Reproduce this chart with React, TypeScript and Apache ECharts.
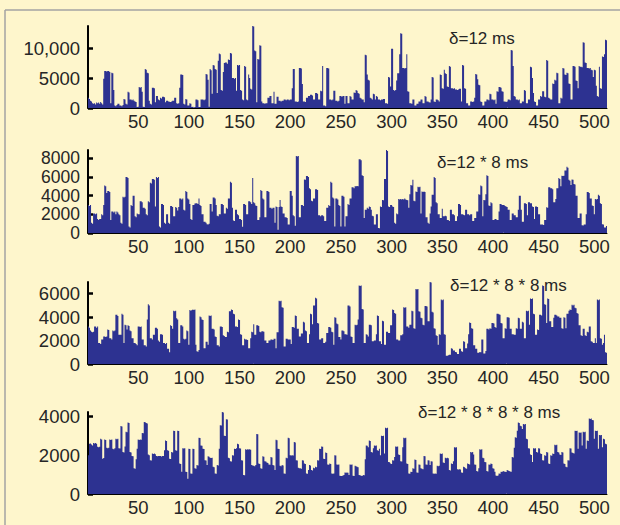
import React, { useEffect, useRef } from "react";
import * as echarts from "echarts";

// ---- data ----
const categories: string[] = Array.from({ length: 512 }, (_, i) => String(i + 1));
const xTickLabels = ["50", "100", "150", "200", "250", "300", "350", "400", "450", "500"];

const panelTitles = ["δ=12 ms", "δ=12 * 8 ms", "δ=12 * 8 * 8 ms", "δ=12 * 8 * 8 * 8 ms"];

const yTicks1 = [0, 5000, 10000];
const yTickLabels1 = ["0", "5000", "10,000"];
const yTicks2 = [0, 2000, 4000, 6000, 8000];
const yTickLabels2 = ["0", "2000", "4000", "6000", "8000"];
const yTicks3 = [0, 2000, 4000, 6000];
const yTickLabels3 = ["0", "2000", "4000", "6000"];
const yTicks4 = [0, 2000, 4000];
const yTickLabels4 = ["0", "2000", "4000"];

const counts12ms = [
  1700, 1500, 1200, 1100, 800, 700, 800, 600, 900, 800, 900, 700, 1000, 800, 600, 4900,
  6200, 6200, 6100, 6200, 6200, 6000, 800, 5900, 5800, 3000, 400, 300, 500, 700, 700, 400,
  400, 300, 500, 1500, 1400, 700, 600, 2700, 2600, 1400, 1400, 1300, 1400, 1200, 1100, 1000,
  150, 200, 3500, 3400, 3500, 2700, 200, 150, 6500, 6400, 5900, 5800, 1200, 700, 600, 3400,
  3400, 3300, 950, 2000, 2000, 1400, 1300, 1700, 1600, 1900, 1900, 1800, 950, 1200, 1200, 1100,
  1050, 1000, 1100, 1200, 1200, 1700, 1700, 800, 700, 800, 3400, 5600, 5600, 5500, 700, 600,
  1500, 1400, 400, 400, 800, 700, 150, 200, 100, 150, 1400, 1400, 1300, 150, 150, 1400,
  1400, 1400, 1300, 1400, 5700, 5600, 4700, 200, 6500, 6300, 2400, 7200, 7100, 6500, 6400, 2500,
  7900, 9100, 9000, 3000, 2900, 6000, 7500, 7600, 7600, 7400, 8100, 8000, 9200, 9100, 5000, 5000,
  4900, 5000, 2900, 7200, 7100, 7200, 3000, 2900, 1400, 1300, 7000, 6900, 1400, 1300, 5600, 5000,
  3200, 3100, 13700, 13600, 9600, 9500, 950, 8200, 8100, 10500, 10400, 1100, 800, 800, 700, 800,
  800, 1700, 1700, 2000, 2000, 800, 800, 2700, 700, 700, 1900, 1900, 1200, 1200, 1100, 1200,
  1200, 1400, 1400, 1300, 1400, 1400, 1300, 1400, 1400, 3300, 6500, 6500, 1100, 1100, 1000, 1100,
  6700, 6700, 6600, 4000, 1100, 1100, 1000, 1700, 1700, 2000, 2000, 2200, 2200, 2100, 1400, 1400,
  2500, 2500, 2400, 1400, 1400, 2900, 2800, 7000, 400, 400, 300, 6700, 6700, 6600, 1400, 1400,
  1300, 1400, 2900, 2900, 1200, 1200, 1100, 1200, 2000, 2000, 1900, 2000, 2000, 700, 2000, 2000,
  800, 800, 2000, 1900, 1400, 1400, 2600, 2500, 3000, 2900, 2500, 2400, 1700, 1600, 1400, 1400,
  950, 8900, 8800, 5600, 4700, 4600, 1700, 1600, 1400, 2400, 2300, 1400, 2000, 1900, 1400, 1400,
  1300, 1400, 1400, 1500, 1500, 800, 800, 700, 5200, 5100, 3600, 9900, 9900, 3000, 2900, 3000,
  4600, 5800, 5800, 9000, 12500, 12400, 6700, 6700, 6600, 6700, 9000, 2800, 2700, 800, 800, 700,
  1400, 1400, 400, 400, 700, 700, 1100, 1100, 1400, 1400, 800, 800, 2000, 1900, 1100, 1100,
  950, 900, 1400, 5200, 5100, 1100, 1000, 1400, 1400, 1300, 1100, 5600, 5500, 3300, 3200, 6400,
  5800, 5700, 3600, 3500, 7000, 6900, 3300, 3300, 3200, 3300, 3100, 3100, 3000, 3100, 3200, 3200,
  1100, 7200, 7100, 3300, 3200, 800, 800, 400, 400, 1100, 1100, 1000, 1100, 1700, 5700, 5600,
  4800, 3900, 3800, 1100, 1000, 400, 400, 1100, 1100, 1400, 1400, 1300, 2400, 2300, 1400, 1400,
  1300, 1400, 700, 2800, 2700, 3500, 3500, 3400, 2800, 2700, 1100, 1100, 1000, 1100, 1400, 1400,
  1300, 9700, 9600, 7000, 2000, 1900, 1400, 1400, 1300, 1400, 800, 800, 1100, 1100, 3000, 2900,
  800, 800, 1400, 1400, 6900, 6800, 5000, 2500, 1100, 1000, 400, 400, 1400, 1400, 2000, 1900,
  2800, 2800, 1900, 1800, 8000, 7900, 1700, 1600, 1400, 1400, 4100, 4000, 4700, 4600, 5900, 5800,
  800, 800, 1700, 1600, 6700, 6600, 5600, 5500, 5900, 5800, 4100, 4000, 1400, 1400, 7000, 7000,
  6900, 4600, 4500, 3300, 7000, 6900, 6900, 6800, 11000, 10900, 7600, 7500, 6700, 6700, 6600, 6700,
  6400, 6300, 5200, 6400, 6300, 3700, 2000, 1900, 6900, 3300, 3200, 8600, 8500, 9000, 11400, 11300,
];

const counts12x8ms = [
  3000, 2900, 3000, 1100, 1000, 2100, 2100, 2000, 2100, 1500, 1400, 1500, 1500, 2000, 1900, 3000,
  5100, 5000, 4300, 4500, 4500, 4400, 1400, 2300, 2300, 2200, 2300, 2000, 2300, 2200, 2000, 1900,
  1100, 1000, 3900, 3800, 3900, 6000, 6000, 5900, 700, 600, 3000, 2900, 4000, 4000, 1800, 1700,
  2100, 2000, 2000, 3400, 3400, 3300, 2700, 2700, 2600, 2000, 1900, 3400, 3300, 5400, 5300, 5800,
  5800, 5700, 2850, 6000, 5900, 6000, 700, 600, 3100, 3100, 3000, 1100, 1000, 2000, 2000, 1100,
  1000, 2900, 2900, 2800, 1800, 1800, 2800, 2700, 2400, 2800, 3700, 3700, 3600, 3700, 2500, 2400,
  4500, 4400, 3700, 3600, 3100, 1500, 1400, 3000, 3000, 3150, 3200, 3200, 3100, 3700, 3000, 2900,
  2000, 2000, 1200, 1200, 1100, 950, 900, 1000, 3100, 3100, 2300, 3800, 3800, 3700, 3000, 1850,
  1800, 2000, 2000, 3100, 3100, 3000, 2100, 2100, 2700, 2600, 3700, 3700, 5500, 5400, 2700, 1350,
  1300, 2500, 2500, 2000, 1900, 1500, 1500, 1400, 680, 3100, 3100, 3000, 2000, 2000, 3400, 3400,
  3300, 3100, 5900, 3300, 3200, 2950, 2900, 1400, 1400, 1700, 4600, 4500, 3700, 3600, 1700, 1700,
  4500, 4500, 4400, 2700, 2700, 2600, 2700, 2700, 1100, 2850, 2800, 350, 2800, 3550, 2850, 2800,
  2100, 2100, 1700, 1700, 1600, 900, 900, 4500, 4500, 4000, 1900, 1800, 780, 8250, 8200, 8250,
  1700, 1700, 3000, 3000, 2900, 5750, 5700, 6100, 6100, 6000, 4800, 4700, 3450, 3400, 3700, 3700,
  4700, 4700, 4600, 1900, 1900, 1800, 1900, 1900, 1800, 1300, 1300, 2700, 2700, 3000, 2900, 5500,
  5400, 3800, 3700, 700, 3700, 3700, 3600, 3000, 2900, 700, 4000, 4000, 3900, 700, 1800, 1800,
  3100, 3000, 3700, 3700, 4900, 4900, 4800, 5000, 5000, 5050, 5000, 7900, 7900, 7800, 6200, 6100,
  1600, 2500, 2500, 2700, 2600, 2850, 2800, 2500, 1850, 1800, 900, 900, 2000, 2000, 530, 500,
  2850, 2800, 3550, 3500, 5800, 5800, 8900, 8800, 2850, 2800, 3000, 3000, 2850, 2800, 1100, 1000,
  2100, 2000, 3650, 3600, 3650, 3600, 3650, 3600, 3700, 3600, 3550, 3500, 2700, 4150, 5150, 5100,
  5700, 3450, 3400, 4450, 4400, 4950, 4900, 4950, 2100, 4450, 4400, 4450, 4400, 1700, 1700, 1100,
  1000, 2100, 2850, 4100, 4100, 6000, 5900, 3300, 3200, 2000, 2000, 1600, 1600, 2600, 1800, 1800,
  1850, 1800, 1400, 1400, 1300, 2500, 2500, 2000, 2000, 1900, 1300, 1300, 1800, 3100, 3100, 3000,
  2000, 2000, 1950, 1900, 2500, 2500, 2000, 2000, 1900, 2000, 2000, 1300, 1300, 1600, 1600, 2300,
  2300, 4150, 4100, 5100, 5000, 1800, 3550, 3500, 4150, 6200, 6100, 2950, 2900, 3300, 3200, 1400,
  1400, 1500, 1500, 1400, 1400, 2300, 3100, 3100, 3000, 3000, 3000, 2900, 2850, 2800, 2500, 2500,
  1400, 1400, 2100, 2100, 1900, 1900, 1700, 1700, 2500, 4000, 4000, 2500, 1200, 1200, 3200, 3200,
  3100, 1900, 3300, 3300, 3200, 3200, 2850, 2800, 1500, 2850, 2850, 2800, 2000, 2000, 900, 900,
  900, 850, 1400, 1400, 2750, 2700, 4900, 4900, 4800, 4800, 4700, 3300, 3300, 3650, 4800, 4800,
  5900, 5800, 5000, 6150, 6100, 6150, 6700, 6700, 7100, 7000, 5700, 5600, 5150, 5750, 5700, 5250,
  5200, 4000, 4000, 1600, 1600, 2100, 2100, 820, 800, 900, 900, 2000, 4400, 4400, 4300, 3700,
  3700, 2950, 2900, 2000, 3650, 3600, 3650, 4100, 4000, 3200, 3100, 950, 900, 600, 600, 750,
];

const counts12x8x8ms = [
  3200, 3100, 2850, 2750, 2700, 2750, 3200, 3200, 3100, 3200, 1800, 1800, 1700, 2100, 2100, 2350,
  2350, 2300, 2350, 2950, 2900, 2200, 2200, 2100, 2850, 2800, 2850, 4200, 4200, 4100, 2500, 2500,
  2500, 4300, 4200, 1800, 3350, 3300, 2950, 3300, 3250, 2850, 2800, 2200, 2200, 1800, 1800, 1700,
  1600, 3200, 3200, 3150, 3200, 2100, 2100, 1600, 1600, 1500, 3800, 5100, 5000, 2200, 2200, 2100,
  2500, 2500, 3100, 3100, 3000, 2000, 1900, 2550, 2550, 2500, 1800, 1800, 1700, 1800, 1300, 1300,
  1000, 3300, 3250, 3000, 4550, 4500, 4550, 3900, 3800, 1800, 1800, 3300, 3300, 3200, 2150, 2100,
  2150, 2850, 2800, 1650, 4600, 4550, 4600, 4650, 4600, 4650, 1650, 1080, 1050, 1200, 4050, 4000,
  3800, 3750, 1350, 1350, 1900, 1900, 1650, 4150, 4100, 4150, 3000, 3000, 2950, 2350, 2300, 1600,
  1600, 1500, 3200, 3200, 3150, 2450, 2400, 2300, 2300, 2750, 2700, 4500, 4500, 4650, 4600, 4300,
  4250, 3200, 3200, 3150, 3800, 3750, 2550, 2500, 1600, 1600, 2150, 2100, 2100, 2050, 1350, 1350,
  2200, 2750, 2700, 3400, 2500, 2500, 3300, 3300, 3250, 2750, 2700, 2800, 2800, 2750, 2000, 2000,
  1800, 1800, 2000, 2000, 2100, 2100, 2050, 2150, 2150, 1350, 2700, 2700, 5400, 5350, 5400, 4850,
  4800, 1500, 1500, 2150, 2150, 2100, 2100, 2100, 1700, 3150, 3150, 3100, 4150, 4100, 3000, 3000,
  2350, 2350, 2600, 2600, 3600, 3550, 2850, 2800, 1800, 1800, 2550, 4300, 4250, 3400, 5000, 5000,
  5650, 5600, 3500, 3450, 2100, 2100, 2200, 2200, 1800, 1800, 1900, 2650, 2650, 3150, 3150, 3100,
  2750, 2700, 1650, 4000, 3950, 3450, 3400, 2300, 2300, 2100, 2850, 2850, 2800, 2550, 2550, 2500,
  5000, 5000, 4900, 2350, 2300, 1800, 1800, 3350, 3300, 3350, 3800, 6700, 6650, 6700, 4700, 4650,
  1800, 1800, 2550, 2500, 2350, 3350, 3350, 3300, 1950, 1950, 2000, 2000, 2550, 4150, 4100, 1950,
  1950, 1700, 3700, 3650, 1650, 1650, 2750, 2750, 2650, 2650, 3300, 3300, 4650, 4600, 4350, 4300,
  2100, 2100, 2000, 2000, 2450, 2450, 2550, 4850, 4800, 4850, 3200, 3200, 3100, 3350, 3350, 4550,
  4500, 3050, 3000, 6400, 6350, 6400, 4500, 4450, 3950, 3900, 3350, 3300, 4950, 4950, 4900, 3650,
  3650, 7000, 6950, 4450, 4400, 3050, 3000, 2450, 2400, 1650, 2550, 2500, 5500, 5450, 5500, 2550,
  2500, 700, 700, 750, 800, 800, 1350, 1300, 1150, 1150, 1030, 1000, 850, 850, 1300, 1300,
  1080, 1050, 1950, 1900, 1350, 1350, 1750, 2550, 3550, 3500, 3050, 3000, 1600, 1600, 1300, 1300,
  950, 950, 1030, 1000, 2100, 2100, 900, 900, 1100, 3000, 3000, 2950, 3050, 3000, 3500, 3500,
  3450, 3150, 3100, 4300, 4300, 4250, 4200, 3500, 3450, 2200, 2200, 3050, 3000, 4000, 4000, 3950,
  3000, 3000, 2550, 2550, 2500, 2500, 3050, 3000, 3950, 3900, 3000, 3000, 3600, 3550, 2200, 2200,
  4550, 4500, 4550, 3350, 5600, 5550, 5600, 4300, 4250, 2500, 2500, 2950, 2900, 4200, 4200, 4150,
  6700, 6650, 5100, 5050, 3500, 5600, 5550, 3650, 3650, 3150, 3150, 3950, 4200, 4200, 4150, 4050,
  4050, 3950, 3950, 3050, 3000, 4000, 3950, 3050, 4300, 4300, 4550, 4650, 4600, 5050, 5000, 5050,
  4800, 4750, 4350, 4300, 3300, 3300, 2450, 2400, 3000, 3000, 2450, 2400, 2750, 2700, 3200, 3200,
  1950, 1900, 1800, 1800, 2200, 1800, 5500, 5450, 5500, 2200, 2150, 1650, 1800, 2500, 1000, 950,
];

const counts12x8x8x8ms = [
  2000, 2580, 2600, 2550, 2500, 2630, 2600, 2630, 2580, 2430, 2400, 2430, 2840, 2800, 1820, 1850,
  2800, 2780, 2380, 2350, 2380, 2800, 2780, 2800, 2330, 2300, 2360, 2840, 2820, 2840, 2360, 2340,
  3500, 3480, 2160, 2140, 2450, 3200, 3180, 3680, 3650, 2160, 2140, 1960, 1940, 1320, 1300, 1790,
  2330, 2800, 2780, 2800, 2790, 3140, 3120, 3710, 3690, 3650, 3630, 2030, 2000, 1740, 1720, 2080,
  2060, 2080, 2050, 1960, 1940, 1960, 1950, 1960, 1930, 1960, 1950, 2250, 2750, 2730, 2250, 2230,
  1820, 1800, 2160, 2140, 3260, 3240, 2250, 2230, 3260, 3240, 1570, 1550, 1150, 2360, 2340, 2360,
  1150, 1130, 780, 2330, 2310, 1060, 1040, 2330, 2310, 1320, 1300, 1490, 1470, 2900, 2880, 2500,
  2480, 2330, 2310, 1740, 1720, 1490, 1940, 1920, 1870, 1850, 1870, 1400, 1380, 1060, 1040, 1490,
  1470, 2330, 3540, 3520, 4220, 4200, 3000, 2980, 3850, 3830, 1860, 1840, 1690, 1670, 2000, 1980,
  2330, 2310, 2360, 2580, 2560, 2360, 2340, 1740, 1720, 980, 960, 2300, 2280, 2300, 2290, 2300,
  2280, 1490, 1470, 1450, 1430, 1490, 3090, 3070, 1570, 1550, 1320, 1300, 1940, 1920, 1690, 1670,
  1620, 1600, 1520, 1500, 1900, 1880, 1490, 1470, 1230, 2790, 2770, 2330, 2310, 1450, 1430, 1490,
  1470, 1060, 1040, 1860, 1840, 2890, 2870, 2000, 1980, 2000, 1980, 2670, 2650, 1740, 1720, 1350,
  1330, 1320, 1300, 1740, 1720, 1570, 1550, 1060, 1040, 1230, 1490, 1470, 1230, 1210, 1350, 1330,
  1400, 1380, 1740, 1720, 2330, 2310, 2450, 2430, 1820, 1800, 2130, 2110, 1520, 1500, 1570, 1550,
  1060, 1040, 1060, 2000, 1980, 1520, 1500, 1520, 945, 930, 930, 950, 980, 1110, 1100, 1110,
  1090, 980, 1520, 1500, 1520, 945, 930, 1450, 1430, 1400, 1380, 980, 960, 945, 930, 980,
  960, 1790, 2500, 2480, 2400, 2750, 2730, 2160, 2140, 2360, 2500, 2480, 2500, 2250, 2230, 2330,
  1990, 3000, 2980, 3000, 2080, 3410, 3390, 3410, 1650, 1630, 1570, 1550, 1740, 1720, 1900, 2450,
  2430, 2450, 2030, 2010, 1690, 1670, 2410, 2890, 2870, 2890, 1570, 1550, 1060, 1040, 1150, 1130,
  1320, 1300, 1770, 1750, 1110, 1090, 1520, 1500, 1320, 1300, 1280, 1960, 1940, 1520, 1500, 1740,
  1720, 1490, 1690, 1670, 1060, 1040, 1060, 1040, 1450, 1430, 1450, 2080, 2060, 2080, 1620, 1600,
  1860, 1840, 1860, 1840, 1230, 1210, 1570, 1550, 1690, 2410, 2390, 2410, 1280, 1260, 1280, 1260,
  1110, 1090, 1400, 1380, 1320, 1300, 1570, 1550, 1520, 2160, 2140, 2160, 2030, 1520, 1500, 1180,
  1160, 1320, 2300, 2280, 2300, 1860, 1840, 1650, 1630, 1180, 1160, 1520, 1500, 1570, 1550, 1320,
  1300, 1150, 950, 930, 950, 1060, 1040, 1150, 1130, 1180, 1160, 1150, 1130, 1230, 1210, 1180,
  1160, 1150, 1900, 1880, 2380, 2920, 2900, 3260, 3680, 3660, 3510, 3490, 3340, 3600, 3580, 3600,
  2840, 2820, 2360, 2340, 2030, 2010, 1650, 2360, 2340, 2360, 2160, 2140, 2360, 2340, 2080, 2060,
  1740, 1720, 1990, 1970, 2160, 2140, 1570, 1550, 1990, 1970, 2080, 2060, 2530, 2510, 2530, 2160,
  2140, 2030, 2010, 2160, 2140, 1570, 1550, 1400, 1380, 1740, 1720, 2360, 2340, 2130, 2110, 2080,
  3260, 3240, 3260, 2330, 3170, 3150, 3170, 2500, 3200, 3180, 3200, 2330, 2750, 2730, 3880, 3860,
  3880, 3810, 3790, 2840, 3260, 3240, 3260, 2330, 3040, 3020, 3040, 2410, 2840, 2820, 2580, 2560,
];

// ---- styling / layout ----
const BAR = "#2D3291";
const BG = "#FEF6CC";
const FONT = "'Liberation Sans', Arial, Helvetica, sans-serif";
const TEXT = "#262626";

const panels = [
  { data: counts12ms, ticks: yTicks1, labels: yTickLabels1, top: 26, height: 82, title: panelTitles[0], tx: 449, ty: 38, fs: 18.5 },
  { data: counts12x8ms, ticks: yTicks2, labels: yTickLabels2, top: 150, height: 83, title: panelTitles[1], tx: 437, ty: 162, fs: 17.5 },
  { data: counts12x8x8ms, ticks: yTicks3, labels: yTickLabels3, top: 282, height: 82, title: panelTitles[2], tx: 450, ty: 285, fs: 18.5 },
  { data: counts12x8x8x8ms, ticks: yTicks4, labels: yTickLabels4, top: 412, height: 82, title: panelTitles[3], tx: 418, ty: 412, fs: 18.5 },
];

export default function App() {
  const ref = useRef<HTMLDivElement | null>(null);

  useEffect(() => {
    if (!ref.current) return;
    const chart = echarts.init(ref.current, undefined, { renderer: "svg" });

    const option: any = {
      animation: false,
      backgroundColor: BG,
      textStyle: { fontFamily: FONT },
      grid: panels.map((p) => ({ left: 88, top: p.top, width: 519, height: p.height, containLabel: false })),
      xAxis: panels.map((p, i) => ({
        type: "category",
        gridIndex: i,
        data: categories,
        boundaryGap: true,
        axisLine: { show: true, lineStyle: { color: "#000", width: 1 } },
        axisTick: { show: false },
        splitLine: { show: false },
        axisLabel: {
          interval: (_idx: number, val: string) => xTickLabels.includes(val),
          margin: 4,
          fontSize: 18.5,
          color: TEXT,
          fontFamily: FONT,
        },
      })),
      yAxis: panels.map((p, i) => ({
        type: "value",
        gridIndex: i,
        min: 0,
        max: "dataMax",
        splitLine: { show: false },
        axisLine: { show: true, lineStyle: { color: "#000", width: 2 } },
        axisTick: { show: true, inside: true, length: 5, customValues: p.ticks, lineStyle: { color: "#000", width: 2.5 } },
        axisLabel: {
          customValues: p.ticks,
          showMinLabel: true,
          showMaxLabel: true,
          hideOverlap: false,
          formatter: (v: number) => {
            const k = p.ticks.indexOf(v);
            return k >= 0 ? p.labels[k] : "";
          },
          margin: 8,
          fontSize: p.fs,
          lineHeight: 16,
          color: TEXT,
          fontFamily: FONT,
        },
      })),
      series: panels.map((p, i) => ({
        type: "bar",
        xAxisIndex: i,
        yAxisIndex: i,
        data: p.data,
        barCategoryGap: "0%",
        barGap: "0%",
        large: true,
        largeThreshold: 100,
        silent: true,
        itemStyle: { color: BAR },
        emphasis: { disabled: true },
      })),
      graphic: [
        { type: "line", shape: { x1: 5, y1: 10, x2: 640, y2: 10 }, style: { stroke: "#A3A3A3", lineWidth: 1.5 }, silent: true },
        { type: "line", shape: { x1: 5, y1: 10, x2: 5, y2: 540 }, style: { stroke: "#A3A3A3", lineWidth: 1.5 }, silent: true },
        ...panels.map((p) => ({
          type: "text",
          x: p.tx,
          y: p.ty,
          silent: true,
          style: {
            text: p.title,
            fill: TEXT,
            font: `17px ${FONT}`,
            textAlign: "left",
            textVerticalAlign: "middle",
          },
        })),
      ],
    };

    chart.setOption(option);
    return () => chart.dispose();
  }, []);

  return (
    <div
      ref={ref}
      style={{ position: "fixed", left: 0, top: 0, width: 620, height: 525, background: BG }}
    />
  );
}
